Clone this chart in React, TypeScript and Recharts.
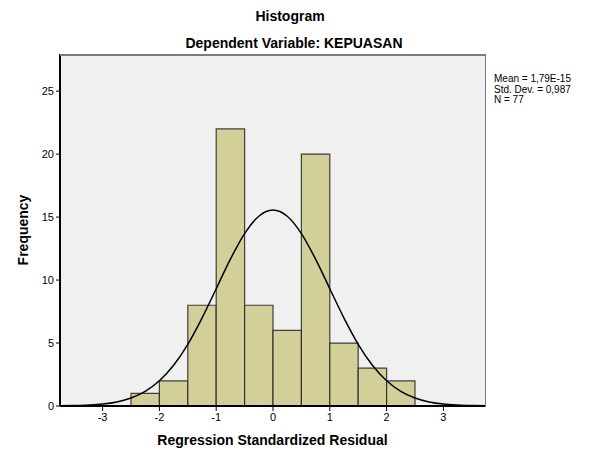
import React from "react";
import {
  ComposedChart,
  Line,
  XAxis,
  YAxis,
  ReferenceArea,
} from "recharts";

// Histogram bins (lower edge, upper edge) and frequencies
const binStarts = [-2.5, -2.0, -1.5, -1.0, -0.5, 0.0, 0.5, 1.0, 1.5, 2.0];
const binEnds = [-2.0, -1.5, -1.0, -0.5, 0.0, 0.5, 1.0, 1.5, 2.0, 2.5];
const frequencies = [1, 2, 8, 22, 8, 6, 20, 5, 3, 2];

// Normal curve
const curveX = [
  -3.75, -3.5, -3.25, -3.0, -2.75, -2.5, -2.25, -2.0, -1.75, -1.5, -1.25, -1.0,
  -0.75, -0.5, -0.25, 0, 0.25, 0.5, 0.75, 1.0, 1.25, 1.5, 1.75, 2.0, 2.25, 2.5,
  2.75, 3.0, 3.25, 3.5, 3.75,
];
const curveY = [
  0.01, 0.03, 0.07, 0.15, 0.32, 0.63, 1.16, 2.0, 3.23, 4.9, 6.98, 9.31, 11.66,
  13.69, 15.07, 15.56, 15.07, 13.69, 11.66, 9.31, 6.98, 4.9, 3.23, 2.0, 1.16,
  0.63, 0.32, 0.15, 0.07, 0.03, 0.01,
];

const xTicks = [-3, -2, -1, 0, 1, 2, 3];
const yTicks = [0, 5, 10, 15, 20, 25];

const titleText = "Histogram";
const subtitleText = "Dependent Variable: KEPUASAN";
const xLabel = "Regression Standardized Residual";
const yLabel = "Frequency";
const statsLines = ["Mean = 1,79E-15", "Std. Dev. = 0,987", "N = 77"];

const curveData = curveX.map((x, i) => ({ x, y: curveY[i] }));

const FONT = "'Liberation Sans', Arial, sans-serif";

export default function App() {
  return (
    <div style={{ position: "absolute", left: 0, top: 0, width: 592, height: 450, background: "#fff" }}>
      <ComposedChart
        width={592}
        height={450}
        data={curveData}
        margin={{ top: 54, right: 106, bottom: 0, left: 0 }}
        style={{ fontFamily: FONT }}
      >
        <XAxis
          dataKey="x"
          type="number"
          domain={[-3.75, 3.75]}
          ticks={xTicks}
          allowDataOverflow
          height={44}
          tickSize={5}
          axisLine={{ stroke: "#000", strokeWidth: 2 }}
          tickLine={{ stroke: "#000" }}
          tick={{ fill: "#000", fontSize: 11, fontFamily: FONT }}
          tickFormatter={(v) => String(v)}
        />
        <YAxis
          type="number"
          domain={[0, 27.95]}
          ticks={yTicks}
          allowDataOverflow
          width={60}
          tickSize={4}
          axisLine={{ stroke: "#000", strokeWidth: 2 }}
          tickLine={{ stroke: "#000" }}
          tick={{ fill: "#000", fontSize: 11, fontFamily: FONT }}
        />
        <ReferenceArea
          x1={-3.75}
          x2={3.75}
          y1={0}
          y2={27.95}
          fill="#f0f0f0"
          fillOpacity={1}
          stroke="none"
          ifOverflow="visible"
        />
        {frequencies.map((f, i) => (
          <ReferenceArea
            key={i}
            x1={binStarts[i]}
            x2={binEnds[i]}
            y1={0}
            y2={f}
            fill="#d3cf98"
            fillOpacity={1}
            stroke="#222"
            strokeOpacity={0.85}
            strokeWidth={1.2}
            ifOverflow="visible"
          />
        ))}
        <Line
          dataKey="y"
          type="monotone"
          stroke="#000"
          strokeWidth={1.5}
          dot={false}
          activeDot={false}
          isAnimationActive={false}
        />
      </ComposedChart>
      <svg
        width={592}
        height={450}
        style={{ position: "absolute", left: 0, top: 0, pointerEvents: "none" }}
      >
        <line x1={60} y1={55} x2={486} y2={55} stroke="#7a7a7a" strokeWidth={2} />
        <line x1={485.5} y1={54} x2={485.5} y2={407} stroke="#7a7a7a" strokeWidth={1} />
        <text x={290} y={21} textAnchor="middle" fontFamily={FONT} fontWeight="bold" fontSize={14} fill="#000">
          {titleText}
        </text>
        <text x={294} y={48} textAnchor="middle" fontFamily={FONT} fontWeight="bold" fontSize={14} fill="#000">
          {subtitleText}
        </text>
        <text x={272.5} y={445} textAnchor="middle" fontFamily={FONT} fontWeight="bold" fontSize={14} fill="#000">
          {xLabel}
        </text>
        <text
          x={28}
          y={230}
          textAnchor="middle"
          fontFamily={FONT}
          fontWeight="bold"
          fontSize={14}
          fill="#000"
          transform="rotate(-90 28 230)"
        >
          {yLabel}
        </text>
        {statsLines.map((s, i) => (
          <text key={i} x={494} y={82 + i * 10.5} fontFamily={FONT} fontSize={10} fill="#000">
            {s}
          </text>
        ))}
      </svg>
    </div>
  );
}
